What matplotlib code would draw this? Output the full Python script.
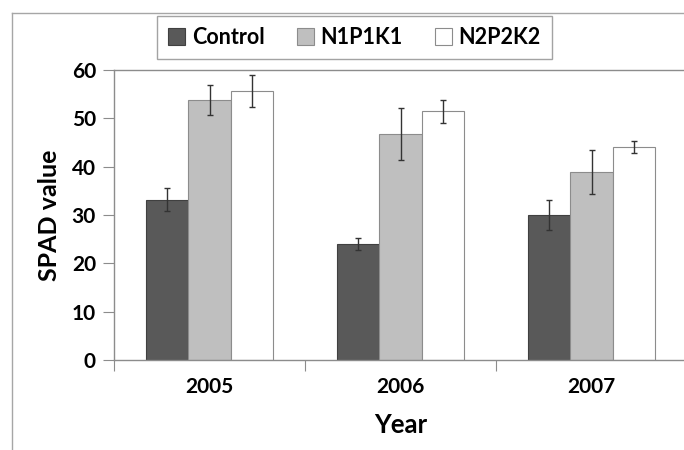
import matplotlib
matplotlib.use("Agg")
import matplotlib.pyplot as plt
from matplotlib.patches import Patch
from matplotlib.lines import Line2D
import numpy as np

years = ["2005", "2006", "2007"]
series_names = ["Control", "N1P1K1", "N2P2K2"]
control = [33.2, 24.0, 30.0]
n1p1k1 = [53.8, 46.7, 38.9]
n2p2k2 = [55.6, 51.5, 44.0]
control_err = [2.4, 1.3, 3.1]
n1p1k1_err = [3.1, 5.4, 4.6]
n2p2k2_err = [3.3, 2.4, 1.25]

plt.rcParams['font.family'] = ['Lato', 'DejaVu Sans']

fig = plt.figure(figsize=(6.84, 4.5), dpi=100)
ax = fig.add_axes([114/684, 0.2, (687-114)/684, 0.6444])

faces = ["#595959", "#bfbfbf", "#ffffff"]
edges = ["#404040", "#8c8c8c", "#8c8c8c"]
vals = [control, n1p1k1, n2p2k2]
errs = [control_err, n1p1k1_err, n2p2k2_err]
x = np.arange(len(years))
w = 0.2225
for i in range(3):
    ax.bar(x + (i - 1) * w, vals[i], width=w, color=faces[i], edgecolor=edges[i],
           linewidth=0.8, zorder=2)
    ax.errorbar(x + (i - 1) * w, vals[i], yerr=errs[i], fmt='none', ecolor="#333333",
                elinewidth=1, capsize=2.5, capthick=1, zorder=3)

ax.set_xlim(-0.5, 2.5)
ax.set_ylim(0, 60)
ax.set_yticks(range(0, 61, 10))
ax.set_xticks([-0.5, 0.5, 1.5, 2.5], minor=False)
ax.set_xticklabels([])
ax.set_xticks(x, minor=True)
ax.set_xticklabels(years, minor=True, fontsize=15, fontweight='bold')
ax.tick_params(axis='x', which='minor', length=0, pad=12)
ax.tick_params(axis='x', which='major', length=8, color="#8c8c8c", direction='out')
ax.tick_params(axis='y', length=8, color="#8c8c8c", labelsize=15, pad=5)
for lab in ax.get_yticklabels():
    lab.set_fontweight('bold')
for s in ['left', 'bottom', 'top']:
    ax.spines[s].set_color("#8c8c8c")
    ax.spines[s].set_linewidth(1)
ax.spines['right'].set_visible(False)

ax.set_ylabel("SPAD value", fontsize=18, fontweight='bold', labelpad=8)
ax.set_xlabel("Year", fontsize=18.5, fontweight='bold', labelpad=12)

handles = [Patch(facecolor=faces[i], edgecolor=edges[i], linewidth=0.8) for i in range(3)]
leg = fig.legend(handles, series_names, loc='center', bbox_to_anchor=(354.5/684, 1 - 37.5/450),
                 ncol=3, frameon=True, fancybox=False, handlelength=0.8, handleheight=0.8,
                 handletextpad=0.3, columnspacing=1.5, borderpad=0.5, borderaxespad=0,
                 prop={'size': 15.5, 'weight': 'bold'})
leg.get_frame().set_edgecolor("#8c8c8c")
leg.get_frame().set_linewidth(1)

fig.add_artist(Line2D([12/684, 12/684], [0, 1 - 13/450], color="#a6a6a6", lw=1, transform=fig.transFigure))
fig.add_artist(Line2D([12/684, 1], [1 - 13/450, 1 - 13/450], color="#a6a6a6", lw=1, transform=fig.transFigure))

fig.savefig("out.png", dpi=100)
